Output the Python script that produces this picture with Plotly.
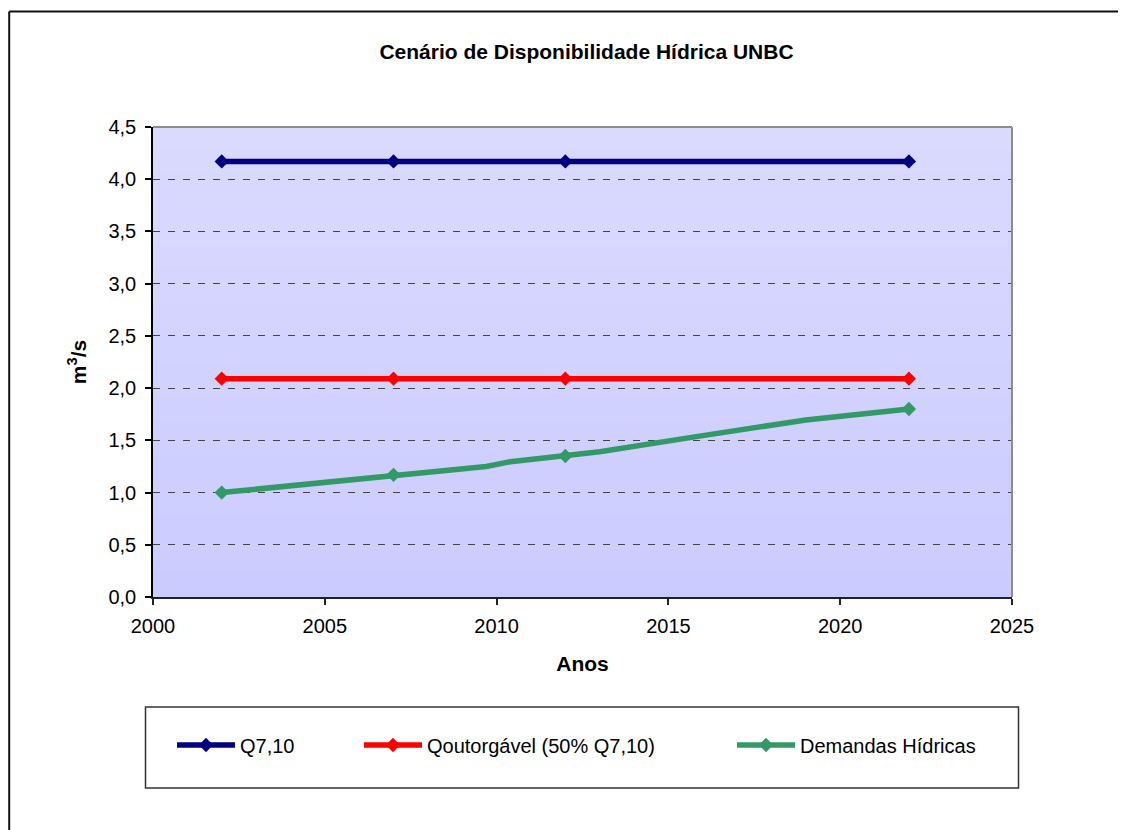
import plotly.graph_objects as go

# ---- data ----
years_flat = [2002, 2007, 2012, 2022]
q710 = [4.17, 4.17, 4.17, 4.17]
qoutorgavel = [2.09, 2.09, 2.09, 2.09]

dem_years = [2002, 2007, 2009.7, 2010.4, 2012, 2013, 2016, 2019, 2022]
dem_values = [1.00, 1.17, 1.25, 1.295, 1.35, 1.39, 1.545, 1.695, 1.80]
dem_marker_years = [2002, 2007, 2012, 2022]
dem_marker_values = [1.00, 1.17, 1.35, 1.80]

y_ticks = [0, 0.5, 1.0, 1.5, 2.0, 2.5, 3.0, 3.5, 4.0, 4.5]
x_ticks = [2000, 2005, 2010, 2015, 2020, 2025]

names = ["Q7,10", "Qoutorgável (50% Q7,10)", "Demandas Hídricas"]
colors = ["#000080", "#FF0000", "#339966"]

FONT = "Liberation Sans, Arial, sans-serif"
W, H = 1126, 830
OFF = 8  # page offset of the figure (body margin)
# plot area in page pixels
PL, PR, PT, PB = 153, 1012, 127, 597
L, R, T, B = PL - OFF, PR - OFF, PT - OFF, PB - OFF


def px_x(page_p):
    return (page_p - OFF - L) / (R - L)


def px_y(page_p):
    return (B - (page_p - OFF)) / (B - T)


fig = go.Figure()

LW = 5.5
MS = 11
fig.add_trace(go.Scatter(x=years_flat, y=q710, mode="lines+markers", name=names[0],
                         line=dict(color=colors[0], width=LW),
                         marker=dict(symbol="diamond", size=MS, color=colors[0]),
                         legend="legend"))
fig.add_trace(go.Scatter(x=years_flat, y=qoutorgavel, mode="lines+markers", name=names[1],
                         line=dict(color=colors[1], width=LW),
                         marker=dict(symbol="diamond", size=MS, color=colors[1]),
                         legend="legend2"))
fig.add_trace(go.Scatter(x=dem_years, y=dem_values, mode="lines", name=names[2],
                         line=dict(color=colors[2], width=LW), showlegend=False,
                         hoverinfo="skip"))
fig.add_trace(go.Scatter(x=dem_marker_years, y=dem_marker_values, mode="markers", name=names[2],
                         marker=dict(symbol="diamond", size=MS, color=colors[2]),
                         showlegend=False))
# legend entry for the demand series
fig.add_trace(go.Scatter(x=[None], y=[None], mode="lines+markers", name=names[2],
                         line=dict(color=colors[2], width=LW),
                         marker=dict(symbol="diamond", size=MS, color=colors[2]),
                         legend="legend3"))

# gradient plot background (overlapping stripes)
n = 40
top = (218, 218, 255)
bot = (203, 203, 255)
shapes = []
for i in range(n):
    f = i / (n - 1)
    c = tuple(round(bot[k] + (top[k] - bot[k]) * f) for k in range(3))
    shapes.append(dict(type="rect", xref="x domain", yref="y domain",
                       x0=0, x1=1, y0=i / n, y1=min(1.0, (i + 1) / n + 0.01),
                       fillcolor="rgb(%d,%d,%d)" % c, line=dict(width=0), layer="below"))
# top and right plot border (gray)
shapes.append(dict(type="line", xref="x domain", yref="y domain", x0=0, x1=1, y0=1, y1=1,
                   line=dict(color="#8C8C8C", width=2), layer="above"))
shapes.append(dict(type="line", xref="x domain", yref="y domain", x0=1, x1=1, y0=0, y1=1,
                   line=dict(color="#8C8C8C", width=2), layer="above"))
# outer chart frame (left and top visible)
fx = px_x(9.2)
fy = px_y(11.5)
shapes.append(dict(type="line", xref="paper", yref="paper",
                   x0=fx, x1=px_x(1160), y0=fy, y1=fy,
                   line=dict(color="#111111", width=2)))
shapes.append(dict(type="line", xref="paper", yref="paper",
                   x0=fx, x1=fx, y0=fy, y1=px_y(870),
                   line=dict(color="#111111", width=2)))
# legend frame
shapes.append(dict(type="rect", xref="paper", yref="paper",
                   x0=px_x(145.5), x1=px_x(1018.5), y0=px_y(788), y1=px_y(707),
                   line=dict(color="#333333", width=1.5), fillcolor="rgba(0,0,0,0)"))

leg_common = dict(orientation="h", yanchor="middle", xanchor="left",
                  bgcolor="rgba(0,0,0,0)", borderwidth=0,
                  font=dict(family=FONT, size=20, color="#000000"),
                  itemwidth=58, xref="paper", yref="paper")
ly = px_y(745)

fig.update_layout(
    width=W, height=H,
    margin=dict(l=L, r=W - R, t=T, b=H - B, pad=0),
    paper_bgcolor="white",
    plot_bgcolor="rgba(0,0,0,0)",
    separators=",.",
    showlegend=True,
    title=dict(text="Cenário de Disponibilidade Hídrica UNBC",
               font=dict(family=FONT, size=21, color="#000000", weight="bold"),
               x=px_x(586.5), xref="paper", xanchor="center",
               y=1 - (52 - OFF) / H, yref="container", yanchor="middle"),
    xaxis=dict(range=[2000, 2025], tickvals=x_ticks, tickformat="d",
               showgrid=False, zeroline=False,
               showline=True, linecolor="#222222", linewidth=2,
               ticks="outside", ticklen=6, tickwidth=1.5, tickcolor="#222222",
               tickfont=dict(family=FONT, size=20, color="#000000"),
               ticklabelstandoff=4,
               title=dict(text="Anos", standoff=20,
                          font=dict(family=FONT, size=21, color="#000000", weight="bold"))),
    yaxis=dict(range=[0, 4.5], tickvals=y_ticks, tickformat=".1f",
               showgrid=True, gridcolor="#444444", gridwidth=1, griddash="7px,8px",
               zeroline=False,
               showline=True, linecolor="#000000", linewidth=1.5,
               ticks="outside", ticklen=6, tickwidth=1.5, tickcolor="#000000",
               tickfont=dict(family=FONT, size=20, color="#000000"),
               ticklabelstandoff=5,
               title=dict(text="m<sup>3</sup>/s", standoff=16,
                          font=dict(family=FONT, size=21, color="#000000", weight="bold"))),
    shapes=shapes,
    legend=dict(x=px_x(172), y=ly, **leg_common),
    legend2=dict(x=px_x(359), y=ly, **leg_common),
    legend3=dict(x=px_x(732), y=ly, **leg_common),
)

fig.write_html("out.html")
